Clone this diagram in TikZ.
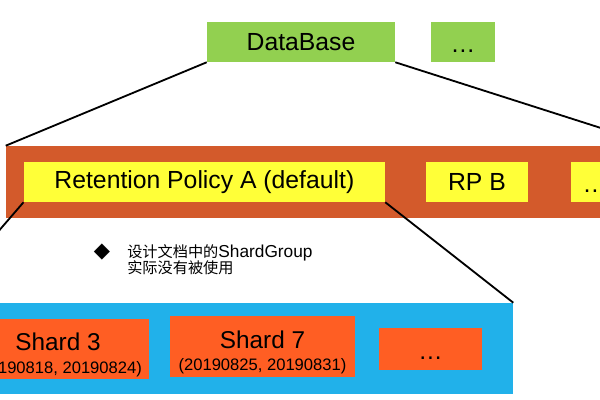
\documentclass[tikz,border=0pt]{standalone}
\usepackage{fontspec}
\setmainfont{Liberation Sans}
\newfontfamily\cjk{Noto Sans CJK SC}
\newfontfamily\symfont{DejaVu Sans}
\usepackage{tikz}

\definecolor{dbgreen}{HTML}{92D050}
\definecolor{rpbrown}{HTML}{D35A2B}
\definecolor{rpyellow}{HTML}{FFFF38}
\definecolor{shardblue}{HTML}{21B1EA}
\definecolor{shardorange}{HTML}{FF5E23}

\begin{document}
\begin{tikzpicture}[scale = 1.00,
        box/.style = {inner sep=0pt, text=black},
        more/.style = {text height=15.5pt, text depth=0pt},
        dbbox/.style = {box, fill=dbgreen, minimum height=1cm, font=\fontsize{17.6}{20}\selectfont},
        rpbox/.style = {box, fill=rpyellow, minimum height=1cm, font=\fontsize{17.6}{20}\selectfont},
        shardbox/.style = {box, fill=shardorange, align=center, font=\fontsize{17.3}{18}\selectfont},
        link/.style = {line width=1.3pt, black}]
        \useasboundingbox (0,0) rectangle (15,10);
        \clip (0,0) rectangle (15,10);

        % bands
        \node [box, fill=rpbrown, minimum width=16.25cm, minimum height=1.8cm] (rpband) at (8.275,5.45) {};
        \node [box, fill=shardblue, minimum width=14.4cm, minimum height=2.275cm] (shardband) at (5.625,1.2875) {};

        % database level
        \node [dbbox, minimum width=4.7cm] (db) at (7.525,8.95) {DataBase};
        \node [dbbox, more, minimum width=1.6cm] (dbmore) at (11.575,8.95) {…};

        % retention policies
        \node [rpbox, minimum width=9.03cm] (rpa) at (5.11,5.45) {Retention Policy A (default)};
        \node [rpbox, minimum width=2.55cm] (rpb) at (11.925,5.45) {RP B};
        \node [rpbox, more, minimum width=1.2cm] (rpmore) at (14.875,5.45) {…};

        % shards
        \node [shardbox, minimum width=4.55cm, minimum height=1.5cm] (shard3) at (1.45,1.275)
            {\rule{0pt}{21pt}Shard 3\\[-2pt]{\fontsize{11.8}{13}\selectfont (20190818, 20190824)}};
        \node [shardbox, minimum width=4.625cm, minimum height=1.525cm] (shard7) at (6.5625,1.3375)
            {\rule{0pt}{21pt}Shard 7\\[-2pt]{\fontsize{11.8}{13}\selectfont (20190825, 20190831)}};
        \node [shardbox, more, minimum width=2.575cm, minimum height=1.05cm] (shardmore) at (10.7625,1.275) {…};

        % note
        \node [inner sep=0pt, font=\fontsize{15}{16}\selectfont] (bullet) at (2.55,3.7) {\symfont ◆};
        \node [anchor=west, inner sep=0pt, align=left, font=\fontsize{10.8}{11}\selectfont] (note) at (3.175,3.5125)
            {{\cjk 设计文档中的}{\fontsize{12.3}{11}\selectfont ShardGroup}\\[-1.2pt]{\cjk 实际没有被使用}};

        \draw [link] (db.south west) -- (rpband.north west);
        \draw [link] (db.south east) -- (rpband.north east);
        \draw [link] (rpa.south west) -- (shardband.north west);
        \draw [link] (rpa.south east) -- (shardband.north east);

    \end{tikzpicture}
\end{document}
